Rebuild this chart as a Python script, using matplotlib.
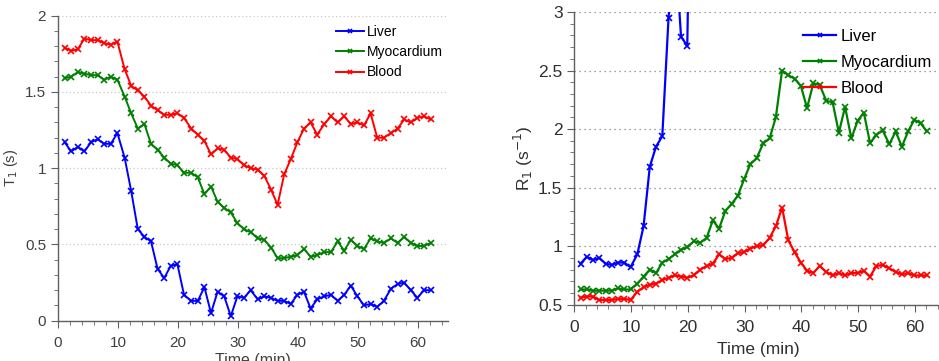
import matplotlib
matplotlib.use("Agg")
from matplotlib import pyplot as plt
from matplotlib.ticker import MultipleLocator

plt.rcParams["font.family"] = ["Liberation Sans", "DejaVu Sans"]

# acquisition times (min)
time = [1.1, 2.2, 3.3, 4.4, 5.5, 6.6, 7.7, 8.8, 9.9,
        11.1, 12.2, 13.3, 14.4, 15.5, 16.6, 17.7, 18.8, 19.9,
        21.0, 22.2, 23.3, 24.4, 25.5, 26.6, 27.7, 28.8, 29.9,
        31.0, 32.1, 33.3, 34.4, 35.5, 36.6, 37.7, 38.8, 39.9,
        41.0, 42.1, 43.2, 44.4, 45.5, 46.6, 47.7, 48.8, 49.9,
        51.0, 52.1, 53.2, 54.3, 55.5, 56.6, 57.7, 58.8, 59.9,
        61.0, 62.1]

# T1 (s)
t1_liver = [1.17, 1.11, 1.14, 1.11, 1.17, 1.19, 1.16, 1.16, 1.23, 1.07, 0.85, 0.60, 0.55, 0.52,
            0.34, 0.28, 0.36, 0.37, 0.17, 0.13, 0.13, 0.22, 0.05, 0.19, 0.16, 0.03, 0.16, 0.15,
            0.20, 0.14, 0.16, 0.15, 0.13, 0.13, 0.11, 0.17, 0.19, 0.08, 0.14, 0.16, 0.17, 0.13,
            0.17, 0.23, 0.16, 0.10, 0.11, 0.09, 0.13, 0.21, 0.24, 0.25, 0.20, 0.15, 0.20, 0.20]
t1_myo = [1.59, 1.60, 1.63, 1.62, 1.61, 1.61, 1.58, 1.60, 1.58, 1.47, 1.36, 1.26, 1.29, 1.16,
          1.12, 1.07, 1.03, 1.02, 0.97, 0.97, 0.94, 0.83, 0.88, 0.78, 0.74, 0.71, 0.64, 0.60,
          0.58, 0.54, 0.53, 0.48, 0.41, 0.41, 0.42, 0.43, 0.47, 0.42, 0.43, 0.45, 0.45, 0.52,
          0.46, 0.53, 0.49, 0.47, 0.54, 0.52, 0.51, 0.54, 0.51, 0.55, 0.51, 0.49, 0.49, 0.51]
t1_blood = [1.79, 1.77, 1.78, 1.85, 1.84, 1.84, 1.82, 1.81, 1.83, 1.65, 1.54, 1.51, 1.47, 1.41,
            1.38, 1.35, 1.35, 1.36, 1.33, 1.26, 1.22, 1.18, 1.09, 1.13, 1.12, 1.07, 1.06, 1.02,
            1.00, 0.99, 0.95, 0.86, 0.76, 0.96, 1.06, 1.17, 1.26, 1.30, 1.22, 1.29, 1.34, 1.30,
            1.34, 1.29, 1.30, 1.28, 1.36, 1.20, 1.20, 1.23, 1.26, 1.32, 1.30, 1.33, 1.34, 1.32]

# R1 (1/s)
r1_liver = [0.85, 0.91, 0.88, 0.90, 0.85, 0.84, 0.86, 0.86, 0.82, 0.93, 1.17, 1.68, 1.85, 1.94,
            2.95, 3.62, 2.79, 2.71, 6.0, 7.5, 7.5, 4.6, 21.7, 5.3, 6.1, 30.3, 6.4, 6.8,
            5.0, 7.2, 6.4, 6.8, 7.9, 7.8, 8.9, 5.9, 5.2, 13.0, 7.0, 6.1, 5.9, 7.9,
            5.9, 4.4, 6.1, 9.9, 9.3, 11.8, 7.8, 4.7, 4.3, 4.1, 5.0, 6.8, 5.0, 5.1]
r1_myo = [0.63, 0.63, 0.62, 0.62, 0.62, 0.62, 0.64, 0.63, 0.63, 0.68, 0.74, 0.80, 0.77, 0.86,
          0.89, 0.93, 0.97, 0.99, 1.04, 1.03, 1.07, 1.22, 1.15, 1.30, 1.36, 1.43, 1.57, 1.70,
          1.75, 1.88, 1.92, 2.10, 2.50, 2.46, 2.43, 2.37, 2.18, 2.39, 2.38, 2.24, 2.23, 1.97,
          2.19, 1.92, 2.07, 2.14, 1.88, 1.95, 1.99, 1.87, 1.98, 1.85, 1.98, 2.08, 2.05, 1.98]
r1_blood = [0.56, 0.57, 0.57, 0.54, 0.54, 0.54, 0.55, 0.55, 0.54, 0.61, 0.65, 0.67, 0.68, 0.71,
            0.73, 0.75, 0.74, 0.73, 0.75, 0.80, 0.83, 0.85, 0.93, 0.89, 0.90, 0.94, 0.95, 0.98,
            1.00, 1.01, 1.07, 1.17, 1.33, 1.05, 0.95, 0.86, 0.79, 0.77, 0.83, 0.78, 0.75, 0.77,
            0.75, 0.77, 0.77, 0.79, 0.74, 0.83, 0.84, 0.81, 0.78, 0.76, 0.77, 0.75, 0.75, 0.75]

names = ["Liver", "Myocardium", "Blood"]
colors = ["#0000ff", "#008000", "#ff0000"]

fig = plt.figure(figsize=(9.39, 3.61), dpi=100)
axL = fig.add_axes([58/939, 1 - 320.7/361, 390/939, 305/361])
axR = fig.add_axes([574.3/939, 1 - 304.7/361, 369/939, 292.7/361])


def style(ax, ymin, ymax, lab_size, lab_col, grid_col, dash):
    ax.set_xlim(0, 65); ax.set_ylim(ymin, ymax)
    for s in ["top", "right"]:
        ax.spines[s].set_visible(False)
    for s in ["left", "bottom"]:
        ax.spines[s].set_color("#606060"); ax.spines[s].set_linewidth(1.0)
    ax.xaxis.set_major_locator(MultipleLocator(10)); ax.xaxis.set_minor_locator(MultipleLocator(2))
    ax.yaxis.set_major_locator(MultipleLocator(0.5)); ax.yaxis.set_minor_locator(MultipleLocator(0.1))
    ax.tick_params(which="major", direction="out", length=5, color="#606060",
                   labelsize=lab_size, labelcolor=lab_col)
    ax.tick_params(which="minor", direction="out", length=3, color="#606060")
    ax.tick_params(axis="x", pad=6)
    ax.yaxis.set_major_formatter(plt.FuncFormatter(lambda v, p: f"{v:g}"))
    ax.grid(True, axis="y", color=grid_col, linestyle=dash, linewidth=0.9)
    ax.set_axisbelow(True)


# left: T1
for y, n, c in zip([t1_liver, t1_myo, t1_blood], names, colors):
    axL.plot(time, y, "-x", color=c, lw=1.4, ms=4, mew=1.2, label=n)
style(axL, 0, 2, 11, "#404040", "#c8c8c8", (0, (1, 2)))
axL.set_ylabel("T$_1$ (s)", fontsize=10.5, color="#404040", labelpad=4)
axL.set_xlabel("Time (min)", fontsize=11.5, color="#404040", labelpad=2)
axL.legend(loc="upper left", bbox_to_anchor=(336/939, 1 - 25/361), bbox_transform=fig.transFigure,
           frameon=False, fontsize=10, handlelength=2.0, handletextpad=0.25,
           labelspacing=0.45, borderpad=0, borderaxespad=0, markerscale=0.7)

# right: R1
for y, n, c in zip([r1_liver, r1_myo, r1_blood], names, colors):
    axR.plot(time, y, "-x", color=c, lw=1.6, ms=4, mew=1.2, label=n)
style(axR, 0.5, 3, 12.5, "#303030", "#808080", (0, (1, 3)))
axR.set_ylabel("R$_1$ (s$^{-1}$)", fontsize=12.5, color="#303030", labelpad=2)
axR.set_xlabel("Time (min)", fontsize=12.5, color="#303030", labelpad=5)
axR.legend(loc="upper left", bbox_to_anchor=(803/939, 1 - 29/361), bbox_transform=fig.transFigure,
           frameon=False, fontsize=12, handlelength=2.0, handletextpad=0.25,
           labelspacing=0.66, borderpad=0, borderaxespad=0, markerscale=0.7)

fig.savefig("out.png", dpi=100)
